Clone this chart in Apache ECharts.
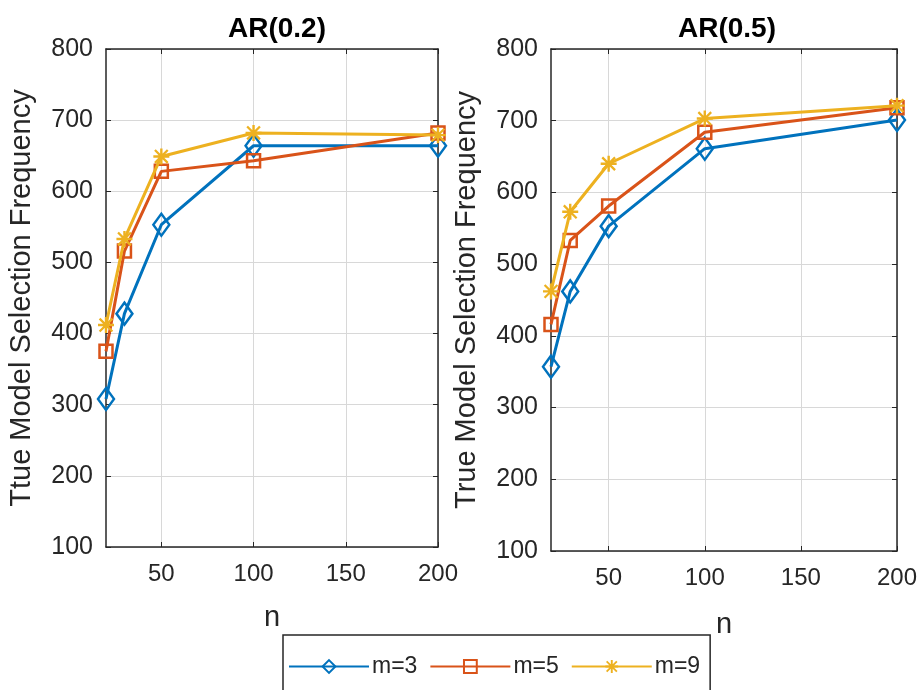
<!DOCTYPE html>
<html>
<head>
<meta charset="utf-8">
<script src="https://cdn.jsdelivr.net/npm/echarts@6/dist/echarts.min.js"></script>
<style>
  html, body { margin: 0; padding: 0; background: #fff; }
  #chart { width: 922px; height: 690px; }
</style>
</head>
<body>
<div id="chart"></div>
<script>
// x values (n)
const nValues = [20, 30, 50, 100, 200];
const xTicks = [50, 100, 150, 200];

// AR(0.2)
const ar02_m3 = [308, 428, 553, 664, 664];
const ar02_m5 = [375, 516, 628, 643, 682];
const ar02_m9 = [412, 533, 649, 682, 679];

// AR(0.5)
const ar05_m3 = [357, 462, 553, 661, 701];
const ar05_m5 = [416, 533, 581, 684, 718];
const ar05_m9 = [462, 573, 640, 703, 721];

const seriesNames = ['m=3', 'm=5', 'm=9'];
const titles = ['AR(0.2)', 'AR(0.5)'];
const yNames = ['Ttue Model Selection Frequency', 'True Model Selection Frequency'];

const colors = ['#0072BD', '#D95319', '#EDB120'];
const FONT = '"Liberation Sans", Arial, Helvetica, sans-serif';
const AXIS_COLOR = '#262626';

// asterisk marker
const asterisk = 'path://M0 8.5L20 8.5L20 11.5L0 11.5Z M8.5 0L11.5 0L11.5 20L8.5 20Z M1 3L3 1L19 17L17 19Z M17 1L19 3L3 19L1 17Z';
const symbols = ['diamond', 'rect', asterisk];
const symbolSizes = [[16, 22], 13, 16];

const chart = echarts.init(document.getElementById('chart'));

function zip(ys) {
  return nValues.map((n, i) => [n, ys[i]]);
}

function mainX(gridIndex, nameGap) {
  return {
    gridIndex: gridIndex,
    type: 'value',
    min: 20,
    max: 200,
    name: 'n',
    nameLocation: 'middle',
    nameGap: nameGap,
    nameTextStyle: { fontFamily: FONT, fontSize: 29, color: AXIS_COLOR },
    axisLine: { show: true, lineStyle: { color: AXIS_COLOR, width: 1.5 } },
    axisTick: { show: true, inside: true, length: 5, customValues: xTicks, lineStyle: { color: AXIS_COLOR } },
    axisLabel: { customValues: xTicks, margin: 15, fontFamily: FONT, fontSize: 24, color: AXIS_COLOR },
    splitLine: { show: true, lineStyle: { color: '#d8d8d8', width: 1 } }
  };
}
function boxX(gridIndex) {
  return {
    gridIndex: gridIndex,
    type: 'value',
    position: 'top',
    min: 20,
    max: 200,
    axisLine: { show: true, lineStyle: { color: AXIS_COLOR, width: 1.5 } },
    axisTick: { show: true, inside: true, length: 5, customValues: xTicks, lineStyle: { color: AXIS_COLOR } },
    axisLabel: { show: false },
    splitLine: { show: false }
  };
}
function mainY(gridIndex, name) {
  return {
    gridIndex: gridIndex,
    type: 'value',
    min: 100,
    max: 800,
    interval: 100,
    name: name,
    nameLocation: 'middle',
    nameGap: 70,
    nameTextStyle: { fontFamily: FONT, fontSize: 29, color: AXIS_COLOR },
    axisLine: { show: true, lineStyle: { color: AXIS_COLOR, width: 1.5 } },
    axisTick: { show: true, inside: true, length: 5, lineStyle: { color: AXIS_COLOR } },
    axisLabel: { margin: 13, fontFamily: FONT, fontSize: 25, color: AXIS_COLOR },
    splitLine: { show: true, lineStyle: { color: '#d8d8d8', width: 1 } }
  };
}
function boxY(gridIndex) {
  return {
    gridIndex: gridIndex,
    type: 'value',
    position: 'right',
    min: 100,
    max: 800,
    interval: 100,
    axisLine: { show: true, lineStyle: { color: AXIS_COLOR, width: 1.5 } },
    axisTick: { show: true, inside: true, length: 5, lineStyle: { color: AXIS_COLOR } },
    axisLabel: { show: false },
    splitLine: { show: false }
  };
}

const dataSets = [
  [ar02_m3, ar02_m5, ar02_m9],
  [ar05_m3, ar05_m5, ar05_m9]
];

const series = [];
dataSets.forEach((set, g) => {
  set.forEach((ys, i) => {
    series.push({
      name: seriesNames[i],
      type: 'line',
      xAxisIndex: g * 2,
      yAxisIndex: g * 2,
      data: zip(ys),
      symbol: symbols[i],
      symbolSize: symbolSizes[i],
      showAllSymbol: true,
      lineStyle: { color: colors[i], width: 3 },
      itemStyle: i === 2
        ? { color: colors[i], borderColor: colors[i], borderWidth: 0 }
        : { color: 'rgba(255,255,255,0)', borderColor: colors[i], borderWidth: 2.5 },
      emphasis: { disabled: true },
      z: 2 + i
    });
  });
});

const option = {
  backgroundColor: '#fff',
  animation: false,
  title: [
    { text: titles[0], left: 272, top: 10, textAlign: 'center',
      textStyle: { fontFamily: FONT, fontSize: 28, fontWeight: 'bold', color: '#000' } },
    { text: titles[1], left: 722, top: 10, textAlign: 'center',
      textStyle: { fontFamily: FONT, fontSize: 28, fontWeight: 'bold', color: '#000' } }
  ],
  legend: {
    data: seriesNames,
    left: 283,
    top: 635,
    orient: 'horizontal',
    itemWidth: 80,
    itemHeight: 16,
    itemGap: 12,
    padding: [20, 10, 30, 5],
    borderColor: AXIS_COLOR,
    borderWidth: 1.5,
    backgroundColor: '#fff',
    textStyle: { fontFamily: FONT, fontSize: 23, color: AXIS_COLOR, padding: [0, 0, 0, -2] }
  },
  grid: [
    { left: 106, top: 49, width: 332, height: 498 },
    { left: 551, top: 49, width: 346, height: 502 }
  ],
  xAxis: [mainX(0, 56), boxX(0), mainX(1, 59), boxX(1)],
  yAxis: [mainY(0, yNames[0]), boxY(0), mainY(1, yNames[1]), boxY(1)],
  series: series
};

chart.setOption(option);
</script>
</body>
</html>
